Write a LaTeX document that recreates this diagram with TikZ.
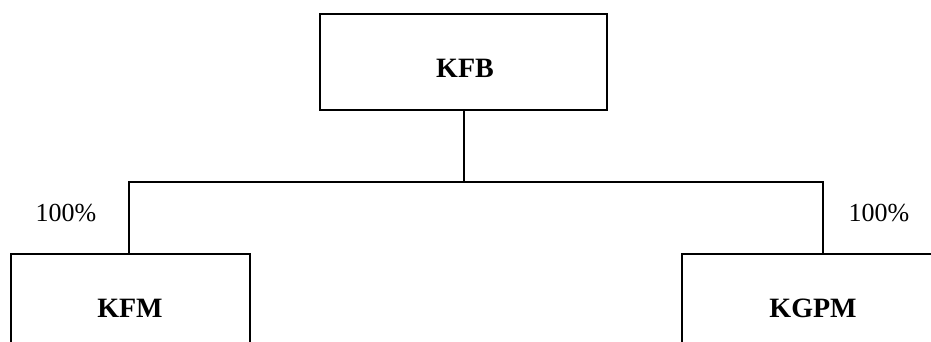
\documentclass[tikz,border=0pt]{standalone}
\usepackage{fontspec}
\setmainfont{Liberation Serif}
\begin{document}
\begin{tikzpicture}[x=1pt,y=-1pt,
  box/.style={draw=black, line width=2pt, fill=none, inner sep=0pt},
  lbl/.style={font=\fontsize{28}{30}\selectfont\bfseries, inner sep=0pt},
  pct/.style={font=\fontsize{26}{28}\selectfont, inner sep=0pt},
  conn/.style={draw=black, line width=2pt}]
\clip (0,0) rectangle (931,342);
\fill[white] (0,0) rectangle (931,342);
\node[box, minimum width=287pt, minimum height=96pt] (kfb) at (463.5,62) {};
\node[lbl] (kfbt) at (465,68) {KFB};
\node[box, minimum width=239pt, minimum height=150pt, anchor=north west] (kfm) at (10,253) {};
\node[lbl] (kfmt) at (130,308) {KFM};
\node[box, minimum width=300pt, minimum height=150pt, anchor=north west] (kgpm) at (681,253) {};
\node[lbl] (kgpmt) at (813,308) {KGPM};
\coordinate (j) at (464,182);
\coordinate (lt) at (128.5,253);
\coordinate (rt) at (823,253);
\draw[conn] (kfb.south -| j) -- (j);
\draw[conn] (j) -| (lt);
\draw[conn] (j) -| (rt);
\node[pct] (p1) at (66,213) {100\%};
\node[pct] (p2) at (879,213) {100\%};
\end{tikzpicture}
\end{document}
